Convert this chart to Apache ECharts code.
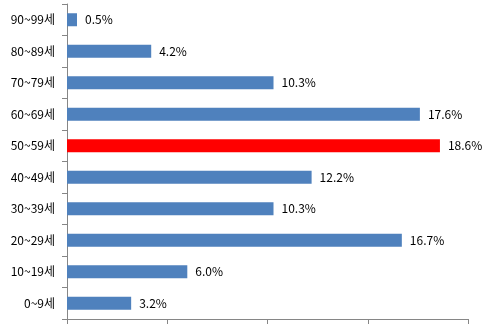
<!DOCTYPE html>
<html><head><meta charset="utf-8">
<script src="https://cdn.jsdelivr.net/npm/echarts@6/dist/echarts.min.js"></script>
<style>html,body{margin:0;padding:0;background:#fff}#c{width:488px;height:333px}</style>
</head><body><div id="c"></div>
<script>
const categories = ['0~9세','10~19세','20~29세','30~39세','40~49세','50~59세','60~69세','70~79세','80~89세','90~99세'];
const values = [3.2, 6.0, 16.7, 10.3, 12.2, 18.6, 17.6, 10.3, 4.2, 0.5];
const highlight = '50~59세';
const chart = echarts.init(document.getElementById('c'), null, {renderer:'canvas'});
const font = '"Noto Sans CJK KR", "Noto Sans", sans-serif';
chart.setOption({
  animation:false,
  grid:{left:67,right:20,top:4,bottom:14,containLabel:false},
  xAxis:{type:'value',min:0,max:20,interval:5,
    axisLine:{show:true,lineStyle:{color:'#868686'}},
    axisTick:{show:true,length:5,lineStyle:{color:'#868686'}},
    axisLabel:{show:false},splitLine:{show:false}},
  yAxis:{type:'category',data:categories,
    axisLine:{show:true,lineStyle:{color:'#868686'}},
    axisTick:{show:true,length:5,lineStyle:{color:'#868686'}},
    axisLabel:{color:'#000',fontSize:12,fontFamily:font,margin:12}},
  series:[{type:'bar',barWidth:13,
    data: values.map((v,i)=>({value:v,itemStyle:{color: categories[i]===highlight?'#FF0000':'#4F81BD'}})),
    label:{show:true,position:'right',distance:8,color:'#000',fontSize:12,fontFamily:font,
      formatter:p=>p.value.toFixed(1)+'%'}}]
});
</script></body></html>
